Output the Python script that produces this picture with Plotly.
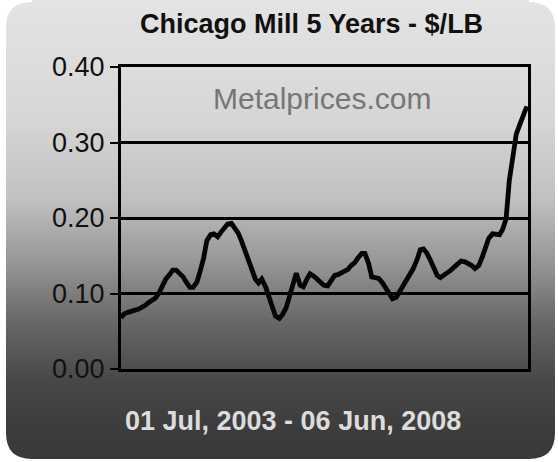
import plotly.graph_objects as go
import pandas as pd

W, H = 558, 462

# ---- data, semi-monthly samples ----
start_date = "2003-07-01"
end_date = "2008-06-06"
dates = list(pd.date_range(start_date, "2008-06-01", freq="SMS").strftime("%Y-%m-%d"))
prices = [
    0.068, 0.073, 0.075, 0.077, 0.078, 0.079, 0.081, 0.084, 0.088, 0.091,
    0.094, 0.100, 0.110, 0.119, 0.125, 0.131, 0.131, 0.127, 0.122, 0.115,
    0.108, 0.108, 0.115, 0.129, 0.147, 0.170, 0.178, 0.179, 0.175, 0.181,
    0.187, 0.192, 0.193, 0.187, 0.180, 0.170, 0.157, 0.142, 0.130, 0.119,
    0.114, 0.119, 0.109, 0.096, 0.082, 0.070, 0.067, 0.072, 0.081, 0.095,
    0.111, 0.127, 0.111, 0.109, 0.119, 0.126, 0.123, 0.119, 0.116, 0.111,
    0.110, 0.117, 0.124, 0.125, 0.127, 0.128, 0.132, 0.137, 0.141, 0.147,
    0.153, 0.153, 0.140, 0.122, 0.121, 0.120, 0.114, 0.108, 0.100, 0.093,
    0.095, 0.102, 0.109, 0.117, 0.125, 0.133, 0.145, 0.158, 0.159, 0.154,
    0.144, 0.134, 0.124, 0.121, 0.124, 0.127, 0.131, 0.135, 0.139, 0.143,
    0.142, 0.140, 0.137, 0.133, 0.137, 0.147, 0.160, 0.173, 0.179, 0.178,
    0.178, 0.185, 0.199, 0.249, 0.287, 0.311, 0.324, 0.336, 0.348,
]
y_ticks = [0.0, 0.1, 0.2, 0.3, 0.4]
y_tick_labels = ["0.00", "0.10", "0.20", "0.30", "0.40"]
title_text = "Chicago Mill 5 Years - $/LB"
range_text = "01 Jul, 2003 - 06 Jun, 2008"
watermark_text = "Metalprices.com"

# ---- layout geometry (pixels) ----
PX_L, PX_R, PY_T, PY_B = 121, 528, 67, 369


def px(x):
    return x / W


def py(y):
    return 1 - y / H


def pt(x, y):
    return f"{px(x):.5f},{py(y):.5f}"


fig = go.Figure(
    go.Scatter(
        x=dates, y=prices, mode="lines",
        line=dict(color="#050505", width=4.8),
        hoverinfo="skip",
    )
)

shapes = []
# vertical gradient background (card)
stops = [(0, 228), (120, 214), (200, 192), (260, 152), (320, 105), (380, 72), (430, 60), (462, 56)]


def gray_at(y):
    for (y0, g0), (y1, g1) in zip(stops[:-1], stops[1:]):
        if y0 <= y <= y1:
            return g0 + (g1 - g0) * (y - y0) / (y1 - y0)
    return stops[-1][1]


step = 3
for y in range(0, H, step):
    g = int(round(gray_at(y + step / 2)))
    c = f"rgb({g},{g},{g})"
    shapes.append(dict(type="rect", xref="paper", yref="paper", layer="below",
                       x0=0, x1=1, y0=py(y + step), y1=py(y), fillcolor=c,
                       line=dict(width=0)))

# white rounded-corner masks
L, R, T, B, r = 6, 555, 2, 459, 26
masks = [
    f"M{pt(0, B - r)} L{pt(L, B - r)} Q{pt(L, B)} {pt(L + r, B)} L{pt(L + r, H)} L{pt(0, H)} Z",
    f"M{pt(W, B - r)} L{pt(R, B - r)} Q{pt(R, B)} {pt(R - r, B)} L{pt(R - r, H)} L{pt(W, H)} Z",
    f"M{pt(0, T + r)} L{pt(L, T + r)} Q{pt(L, T)} {pt(L + r, T)} L{pt(L + r, 0)} L{pt(0, 0)} Z",
    f"M{pt(W, T + r)} L{pt(R, T + r)} Q{pt(R, T)} {pt(R - r, T)} L{pt(R - r, 0)} L{pt(W, 0)} Z",
    f"M{pt(0, 0)} L{pt(L, 0)} L{pt(L, H)} L{pt(0, H)} Z",
    f"M{pt(R, 0)} L{pt(W, 0)} L{pt(W, H)} L{pt(R, H)} Z",
    f"M{pt(0, B)} L{pt(W, B)} L{pt(W, H)} L{pt(0, H)} Z",
]
for m in masks:
    shapes.append(dict(type="path", xref="paper", yref="paper", layer="below",
                       path=m, fillcolor="white", line=dict(width=0)))

fig.update_layout(
    width=W, height=H,
    margin=dict(l=0, r=0, t=0, b=0, pad=0, autoexpand=False),
    paper_bgcolor="white",
    plot_bgcolor="#ababab",
    showlegend=False,
    shapes=shapes,
    font=dict(family="Liberation Sans, Arial, sans-serif", color="black"),
    xaxis=dict(
        domain=[px(PX_L), px(PX_R)],
        type="date",
        range=[start_date, end_date],
        automargin=False,
        showticklabels=False, ticks="", showgrid=False, zeroline=False,
        showline=True, linecolor="black", linewidth=3, mirror=True,
        fixedrange=True,
    ),
    yaxis=dict(
        domain=[py(PY_B), py(PY_T)],
        range=[0, 0.4],
        automargin=False,
        tickvals=y_ticks, ticktext=y_tick_labels,
        ticks="outside", ticklen=8, tickwidth=2, tickcolor="black",
        tickfont=dict(size=27, family="Liberation Sans, Arial, sans-serif", color="#111"),
        showgrid=True, gridcolor="black", gridwidth=3,
        zeroline=False,
        showline=True, linecolor="black", linewidth=3, mirror=True,
        fixedrange=True,
    ),
    annotations=[
        dict(text=f"<b>{title_text}</b>", xref="paper", yref="paper",
             x=px(311), y=py(24), xanchor="center", yanchor="middle",
             showarrow=False,
             font=dict(size=27, family="Liberation Sans, Arial", color="#111")),
        dict(text=watermark_text, xref="paper", yref="paper",
             x=px(322), y=py(98), xanchor="center", yanchor="middle",
             showarrow=False,
             font=dict(size=30, family="Liberation Sans, Arial", color="#767676")),
        dict(text=f"<b>{range_text}</b>", xref="paper", yref="paper",
             x=px(293), y=py(421), xanchor="center", yanchor="middle",
             showarrow=False,
             font=dict(size=27, family="Liberation Sans, Arial", color="#dcdcdc")),
    ],
)

fig.write_html("out.html")
